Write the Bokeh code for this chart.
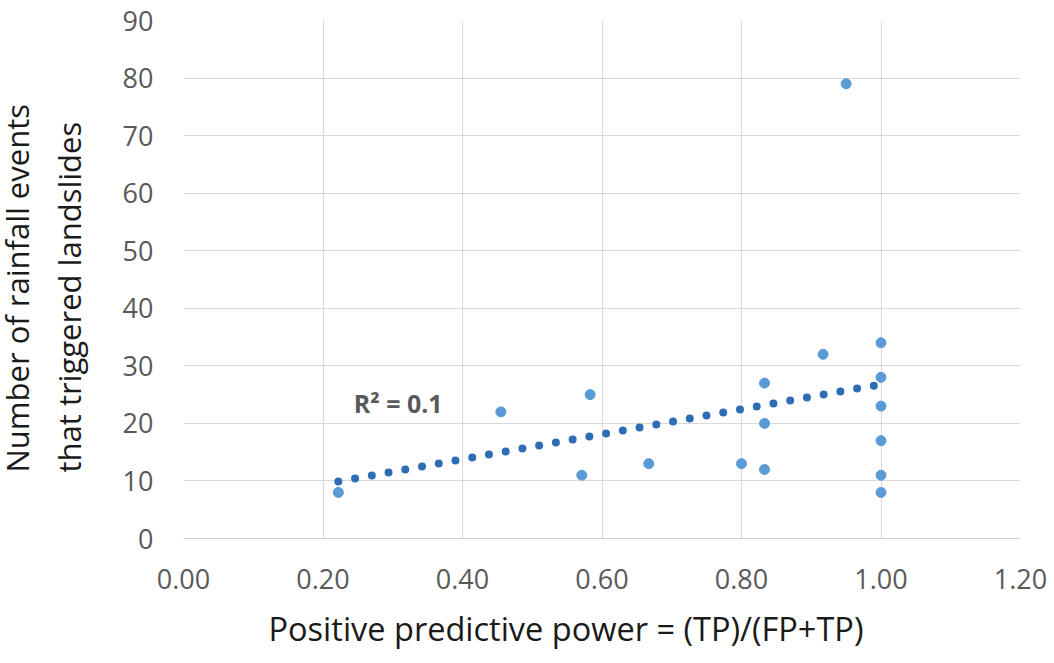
import numpy as np
from bokeh.plotting import figure
from bokeh.models import Range1d, FixedTicker, NumeralTickFormatter, Label, Title
from bokeh.embed import file_html
from bokeh.resources import INLINE

# ---- data ----
ppp = [0.222, 0.455, 0.571, 0.583, 0.667, 0.800, 0.833, 0.833, 0.833,
       0.917, 0.950, 1.000, 1.000, 1.000, 1.000, 1.000, 1.000]
events = [8, 22, 11, 25, 13, 13, 27, 20, 12,
          32, 79, 34, 28, 23, 17, 11, 8]
x_ticks = [0.0, 0.2, 0.4, 0.6, 0.8, 1.0, 1.2]
y_ticks = [0, 10, 20, 30, 40, 50, 60, 70, 80, 90]
r2_text = "R² = 0.1"
x_title = "Positive predictive power = (TP)/(FP+TP)"
y_title_lines = ["Number of rainfall events", "that triggered landslides"]

# linear trend line (least squares)
slope, intercept = np.polyfit(ppp, events, 1)
trend_x = [min(ppp), max(ppp)]
trend_y = [intercept + slope * v for v in trend_x]

FONT = "Open Sans"
TICK_COLOR = "#595959"
TITLE_COLOR = "#1A1A1A"
GRID = "#D9D9D9"

p = figure(width=1054, height=663,
           x_range=Range1d(0, 1.2), y_range=Range1d(0, 90),
           output_backend="svg", toolbar_location=None,
           min_border_left=183, min_border_right=34,
           min_border_top=20, min_border_bottom=124)
p.outline_line_color = None
p.background_fill_color = "white"
p.border_fill_color = "white"

p.xaxis.ticker = FixedTicker(ticks=x_ticks)
p.yaxis.ticker = FixedTicker(ticks=y_ticks)
p.xgrid.ticker = FixedTicker(ticks=x_ticks)
p.ygrid.ticker = FixedTicker(ticks=y_ticks)
p.xaxis.formatter = NumeralTickFormatter(format="0.00")
p.xgrid.grid_line_color = GRID
p.ygrid.grid_line_color = GRID

for ax in (p.xaxis[0], p.yaxis[0]):
    ax.major_tick_line_color = None
    ax.minor_tick_line_color = None
    ax.major_tick_out = 0
    ax.major_tick_in = 0
    ax.major_label_text_font = FONT
    ax.major_label_text_color = TICK_COLOR

p.xaxis.axis_line_color = "#CFCFCF"
p.yaxis.axis_line_color = None
p.xaxis.major_label_text_font_size = "27px"
p.yaxis.major_label_text_font_size = "27px"
p.xaxis.major_label_standoff = 30
p.yaxis.major_label_standoff = 30

p.scatter(ppp, events, size=10, color="#5B9BD5")
p.line(trend_x, trend_y, line_color="#2E6DB4", line_width=8,
       line_dash="0 17", line_cap="round")

p.add_layout(Label(x=0.244, y=23.6, text=r2_text, text_font=FONT,
                   text_font_style="bold", text_font_size="25px",
                   text_color="#595959", text_baseline="alphabetic"))

# x-axis title
p.add_layout(Title(text=x_title, text_font=FONT, text_font_size="32.5px",
                   text_font_style="normal", text_color=TITLE_COLOR,
                   align="left", offset=85, standoff=25), "below")

# y-axis title: two lines, inner line first
for line, sd in zip(reversed(y_title_lines), [60, -44]):
    p.add_layout(Title(text=line, text_font=FONT, text_font_size="31px",
                       text_font_style="normal", text_color=TITLE_COLOR,
                       align="left", offset=66, standoff=sd), "left")

open("out.html", "w").write(file_html(p, INLINE))
